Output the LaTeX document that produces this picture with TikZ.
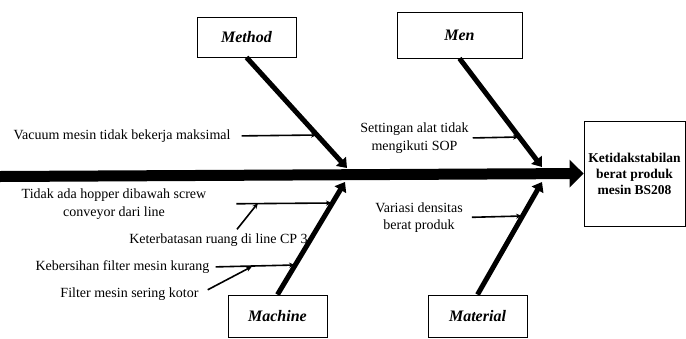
\documentclass[tikz,border=0pt]{standalone}
\usepackage{fontspec}
\setmainfont{Liberation Serif}
\usetikzlibrary{arrows.meta}

\begin{document}
\begin{tikzpicture}[x=1pt, y=-1pt, >=Stealth,
  catbox/.style={draw, line width=0.8pt, inner sep=0pt,
    font=\fontsize{16}{19}\selectfont\bfseries\itshape},
  cause/.style={font=\fontsize{14}{17.5}\selectfont, align=center, inner sep=1pt},
  bone/.style={line width=5pt, -{Triangle[length=9pt,width=13pt]}},
  twig/.style={line width=1.6pt, -{Stealth[length=6pt,width=5pt]}}]

\useasboundingbox (0,0) rectangle (686,338);

% --- Effect and Spine ---
\node[draw, line width=0.8pt, minimum width=101pt, minimum height=105pt, inner sep=0pt,
  font=\fontsize{13.5}{16}\selectfont\bfseries, align=center]
  (effect) at (634.5,173.5) {Ketidakstabilan\\berat produk\\mesin BS208};
\coordinate (tail) at (0,176.5);
\draw[line width=11pt, -{Triangle[length=14pt,width=27pt]}] (tail) -- (effect.west);

% --- Category Boxes ---
\node[catbox, minimum width=99pt, minimum height=40pt] (method) at (246.5,37) {Method};
\node[catbox, minimum width=125pt, minimum height=46pt] (men) at (459.5,35) {Men};
\node[catbox, minimum width=99pt, minimum height=42pt] (machine) at (277.5,316) {Machine};
\node[catbox, minimum width=99pt, minimum height=42pt] (material) at (477.5,316) {Material};

% --- Bones ---
\coordinate (s1) at (347,168);
\coordinate (s2) at (542,167);
\coordinate (s3) at (345,182);
\coordinate (s4) at (542,182);
\draw[bone] (method.south) -- (s1);
\draw[bone] (men.south) -- (s2);
\draw[bone] (machine.north) -- (s3);
\draw[bone] (material.north) -- (s4);

% --- Causes ---
\coordinate (b1) at (317,135);
\coordinate (b2) at (519,137);
\coordinate (b3) at (332,203);
\coordinate (b4) at (295,265);
\coordinate (b5) at (522,216);
\coordinate (h1) at (258,203);
\coordinate (k1) at (252,266.5);

\node[cause] (vacuum) at (122,136) {Vacuum mesin tidak bekerja maksimal};
\draw[twig, shorten <=10pt] (vacuum.east) -- (b1);

\node[cause] (setting) at (414.5,138) {Settingan alat tidak\\mengikuti SOP};
\draw[twig, shorten <=3pt] (setting.east) -- (b2);

\node[cause] (hopper) at (114,204) {Tidak ada hopper dibawah screw\\conveyor dari line};
\draw[twig, shorten <=29pt] (hopper.east) -- (b3);

\node[cause] (ruang) at (218.5,240) {Keterbatasan ruang di line CP 3};
\draw[twig, shorten <=4pt] ([xshift=16pt]ruang.north) -- (h1);

\node[cause] (bersih) at (122.5,267) {Kebersihan filter mesin kurang};
\draw[twig, shorten <=5pt] (bersih.east) -- (b4);

\node[cause] (kotor) at (129.5,294) {Filter mesin sering kotor};
\draw[twig, shorten <=9pt] (kotor.east) -- (k1);

\node[cause] (densitas) at (419,217.5) {Variasi densitas\\berat produk};
\draw[twig, shorten <=8pt] (densitas.east) -- (b5);

\end{tikzpicture}
\end{document}
